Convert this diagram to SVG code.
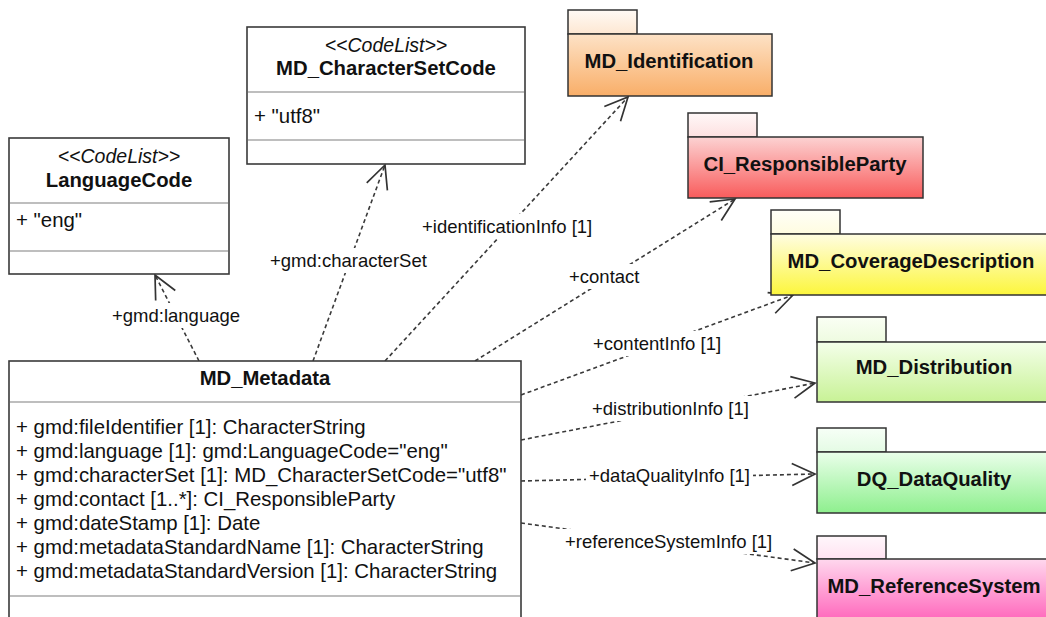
<svg xmlns="http://www.w3.org/2000/svg" width="1046" height="617" viewBox="0 0 1046 617">
<style>
.box{fill:#fff;stroke:#3a3a3a;stroke-width:1.6}
.dv{stroke:#a8a8a8;stroke-width:1.5}
.pkg{stroke:#333;stroke-width:1.5}
text{font-family:"Liberation Sans",Arial,sans-serif;fill:#111}
.nm{font-size:20.3px;font-weight:bold;text-anchor:middle}
.st{font-size:19.5px;font-style:italic;text-anchor:middle}
.at{font-size:20.4px}
.lb{font-size:18.5px}
.conn{fill:none;stroke:#3a3a3a;stroke-width:1.6;stroke-dasharray:4 3;marker-end:url(#arr)}
.bg{fill:#fff}
</style>
<defs>
<marker id="arr" markerUnits="userSpaceOnUse" markerWidth="40" markerHeight="40" refX="0" refY="0" orient="auto" viewBox="-30 -20 40 40" overflow="visible">
<path d="M-23,-11 L0,0 L-23,11" fill="none" stroke="#333" stroke-width="1.7" stroke-dasharray="none"/>
</marker>
<linearGradient id="gIdT" x1="0" y1="0" x2="0" y2="1"><stop offset="0" stop-color="#fffaf5"/><stop offset="1" stop-color="#fde7d2"/></linearGradient>
<linearGradient id="gIdB" x1="0" y1="0" x2="0" y2="1"><stop offset="0" stop-color="#fde2c6"/><stop offset="1" stop-color="#f9ae68"/></linearGradient>
<linearGradient id="gCiT" x1="0" y1="0" x2="0" y2="1"><stop offset="0" stop-color="#fff8f8"/><stop offset="1" stop-color="#fde0e0"/></linearGradient>
<linearGradient id="gCiB" x1="0" y1="0" x2="0" y2="1"><stop offset="0" stop-color="#fcd2d2"/><stop offset="1" stop-color="#f95c5c"/></linearGradient>
<linearGradient id="gCvT" x1="0" y1="0" x2="0" y2="1"><stop offset="0" stop-color="#fffff8"/><stop offset="1" stop-color="#fffce0"/></linearGradient>
<linearGradient id="gCvB" x1="0" y1="0" x2="0" y2="1"><stop offset="0" stop-color="#fffde2"/><stop offset="1" stop-color="#fcf63c"/></linearGradient>
<linearGradient id="gDiT" x1="0" y1="0" x2="0" y2="1"><stop offset="0" stop-color="#fafff4"/><stop offset="1" stop-color="#eefbe0"/></linearGradient>
<linearGradient id="gDiB" x1="0" y1="0" x2="0" y2="1"><stop offset="0" stop-color="#f4ffea"/><stop offset="1" stop-color="#c8f296"/></linearGradient>
<linearGradient id="gDqT" x1="0" y1="0" x2="0" y2="1"><stop offset="0" stop-color="#f7fff7"/><stop offset="1" stop-color="#e4fbe4"/></linearGradient>
<linearGradient id="gDqB" x1="0" y1="0" x2="0" y2="1"><stop offset="0" stop-color="#eaffea"/><stop offset="1" stop-color="#8eef8e"/></linearGradient>
<linearGradient id="gRsT" x1="0" y1="0" x2="0" y2="1"><stop offset="0" stop-color="#fff7fb"/><stop offset="1" stop-color="#ffe2f1"/></linearGradient>
<linearGradient id="gRsB" x1="0" y1="0" x2="0" y2="1"><stop offset="0" stop-color="#ffd8ee"/><stop offset="1" stop-color="#ff66bb"/></linearGradient>
</defs>
<rect width="1046" height="617" fill="#fff"/>

<g id="connectors">
<line class="conn" x1="199" y1="361" x2="155" y2="275"/>
<line class="conn" x1="313" y1="361" x2="385" y2="165"/>
<line class="conn" x1="385" y1="361" x2="628" y2="97"/>
<line class="conn" x1="475" y1="361" x2="735" y2="199"/>
<line class="conn" x1="521" y1="395" x2="793" y2="295"/>
<line class="conn" x1="521" y1="440" x2="815" y2="383"/>
<line class="conn" x1="521" y1="481" x2="815" y2="474"/>
<line class="conn" x1="521" y1="523" x2="815" y2="563"/>
<g id="labels">
<rect class="bg" x="109" y="303" width="134" height="25"/>
<text class="lb" x="112" y="322">+gmd:language</text>
<rect class="bg" x="267" y="248" width="163" height="25"/>
<text class="lb" x="270" y="267">+gmd:characterSet</text>
<rect class="bg" x="419" y="214" width="177" height="25"/>
<text class="lb" x="422" y="233">+identificationInfo [1]</text>
<rect class="bg" x="566" y="264" width="76" height="25"/>
<text class="lb" x="569" y="283">+contact</text>
<rect class="bg" x="590" y="331" width="134" height="25"/>
<text class="lb" x="593" y="350">+contentInfo [1]</text>
<rect class="bg" x="589" y="396" width="163" height="25"/>
<text class="lb" x="592" y="415">+distributionInfo [1]</text>
<rect class="bg" x="586" y="463" width="167" height="25"/>
<text class="lb" x="589" y="482">+dataQualityInfo [1]</text>
<rect class="bg" x="562" y="529" width="213" height="25"/>
<text class="lb" x="565" y="548">+referenceSystemInfo [1]</text>
</g>
</g>

<g id="LanguageCode">
<rect class="box" x="9" y="138" width="220" height="136"/>
<line class="dv" x1="10" y1="203" x2="228" y2="203"/>
<line class="dv" x1="10" y1="251" x2="228" y2="251"/>
<text class="st" x="119" y="163">&lt;&lt;CodeList&gt;&gt;</text>
<text class="nm" x="119" y="187">LanguageCode</text>
<text class="at" x="16" y="227">+ "eng"</text>
</g>

<g id="MD_CharacterSetCode">
<rect class="box" x="247" y="27" width="278" height="137"/>
<line class="dv" x1="248" y1="92" x2="524" y2="92"/>
<line class="dv" x1="248" y1="140" x2="524" y2="140"/>
<text class="st" x="386" y="52">&lt;&lt;CodeList&gt;&gt;</text>
<text class="nm" x="386" y="75">MD_CharacterSetCode</text>
<text class="at" x="254" y="123">+ "utf8"</text>
</g>

<g id="MD_Metadata">
<rect class="box" x="9" y="361" width="512" height="280"/>
<line class="dv" x1="10" y1="402" x2="520" y2="402"/>
<line class="dv" x1="10" y1="596" x2="520" y2="596"/>
<text class="nm" x="265" y="385">MD_Metadata</text>
<text class="at" x="16" y="434">+ gmd:fileIdentifier [1]: CharacterString</text>
<text class="at" x="16" y="458">+ gmd:language [1]: gmd:LanguageCode="eng"</text>
<text class="at" x="16" y="482">+ gmd:characterSet [1]: MD_CharacterSetCode="utf8"</text>
<text class="at" x="16" y="506">+ gmd:contact [1..*]: CI_ResponsibleParty</text>
<text class="at" x="16" y="530">+ gmd:dateStamp [1]: Date</text>
<text class="at" x="16" y="554">+ gmd:metadataStandardName [1]: CharacterString</text>
<text class="at" x="16" y="578">+ gmd:metadataStandardVersion [1]: CharacterString</text>
</g>

<g id="MD_Identification">
<rect class="pkg" x="568" y="10" width="69" height="24" fill="url(#gIdT)"/>
<rect class="pkg" x="568" y="34" width="204" height="62" fill="url(#gIdB)"/>
<text class="nm" x="669" y="68">MD_Identification</text>
</g>

<g id="CI_ResponsibleParty">
<rect class="pkg" x="688" y="113" width="69" height="24" fill="url(#gCiT)"/>
<rect class="pkg" x="688" y="137" width="235" height="61" fill="url(#gCiB)"/>
<text class="nm" x="805" y="171">CI_ResponsibleParty</text>
</g>

<g id="MD_CoverageDescription">
<rect class="pkg" x="771" y="210" width="69" height="24" fill="url(#gCvT)"/>
<rect class="pkg" x="771" y="234" width="280" height="61" fill="url(#gCvB)"/>
<text class="nm" x="911" y="268">MD_CoverageDescription</text>
</g>

<g id="MD_Distribution">
<rect class="pkg" x="817" y="317" width="69" height="25" fill="url(#gDiT)"/>
<rect class="pkg" x="817" y="342" width="234" height="60" fill="url(#gDiB)"/>
<text class="nm" x="934" y="374">MD_Distribution</text>
</g>

<g id="DQ_DataQuality">
<rect class="pkg" x="817" y="428" width="69" height="24" fill="url(#gDqT)"/>
<rect class="pkg" x="817" y="452" width="234" height="61" fill="url(#gDqB)"/>
<text class="nm" x="934" y="486">DQ_DataQuality</text>
</g>

<g id="MD_ReferenceSystem">
<rect class="pkg" x="817" y="536" width="69" height="23" fill="url(#gRsT)"/>
<rect class="pkg" x="817" y="559" width="234" height="62" fill="url(#gRsB)"/>
<text class="nm" x="934" y="593">MD_ReferenceSystem</text>
</g>
</svg>
